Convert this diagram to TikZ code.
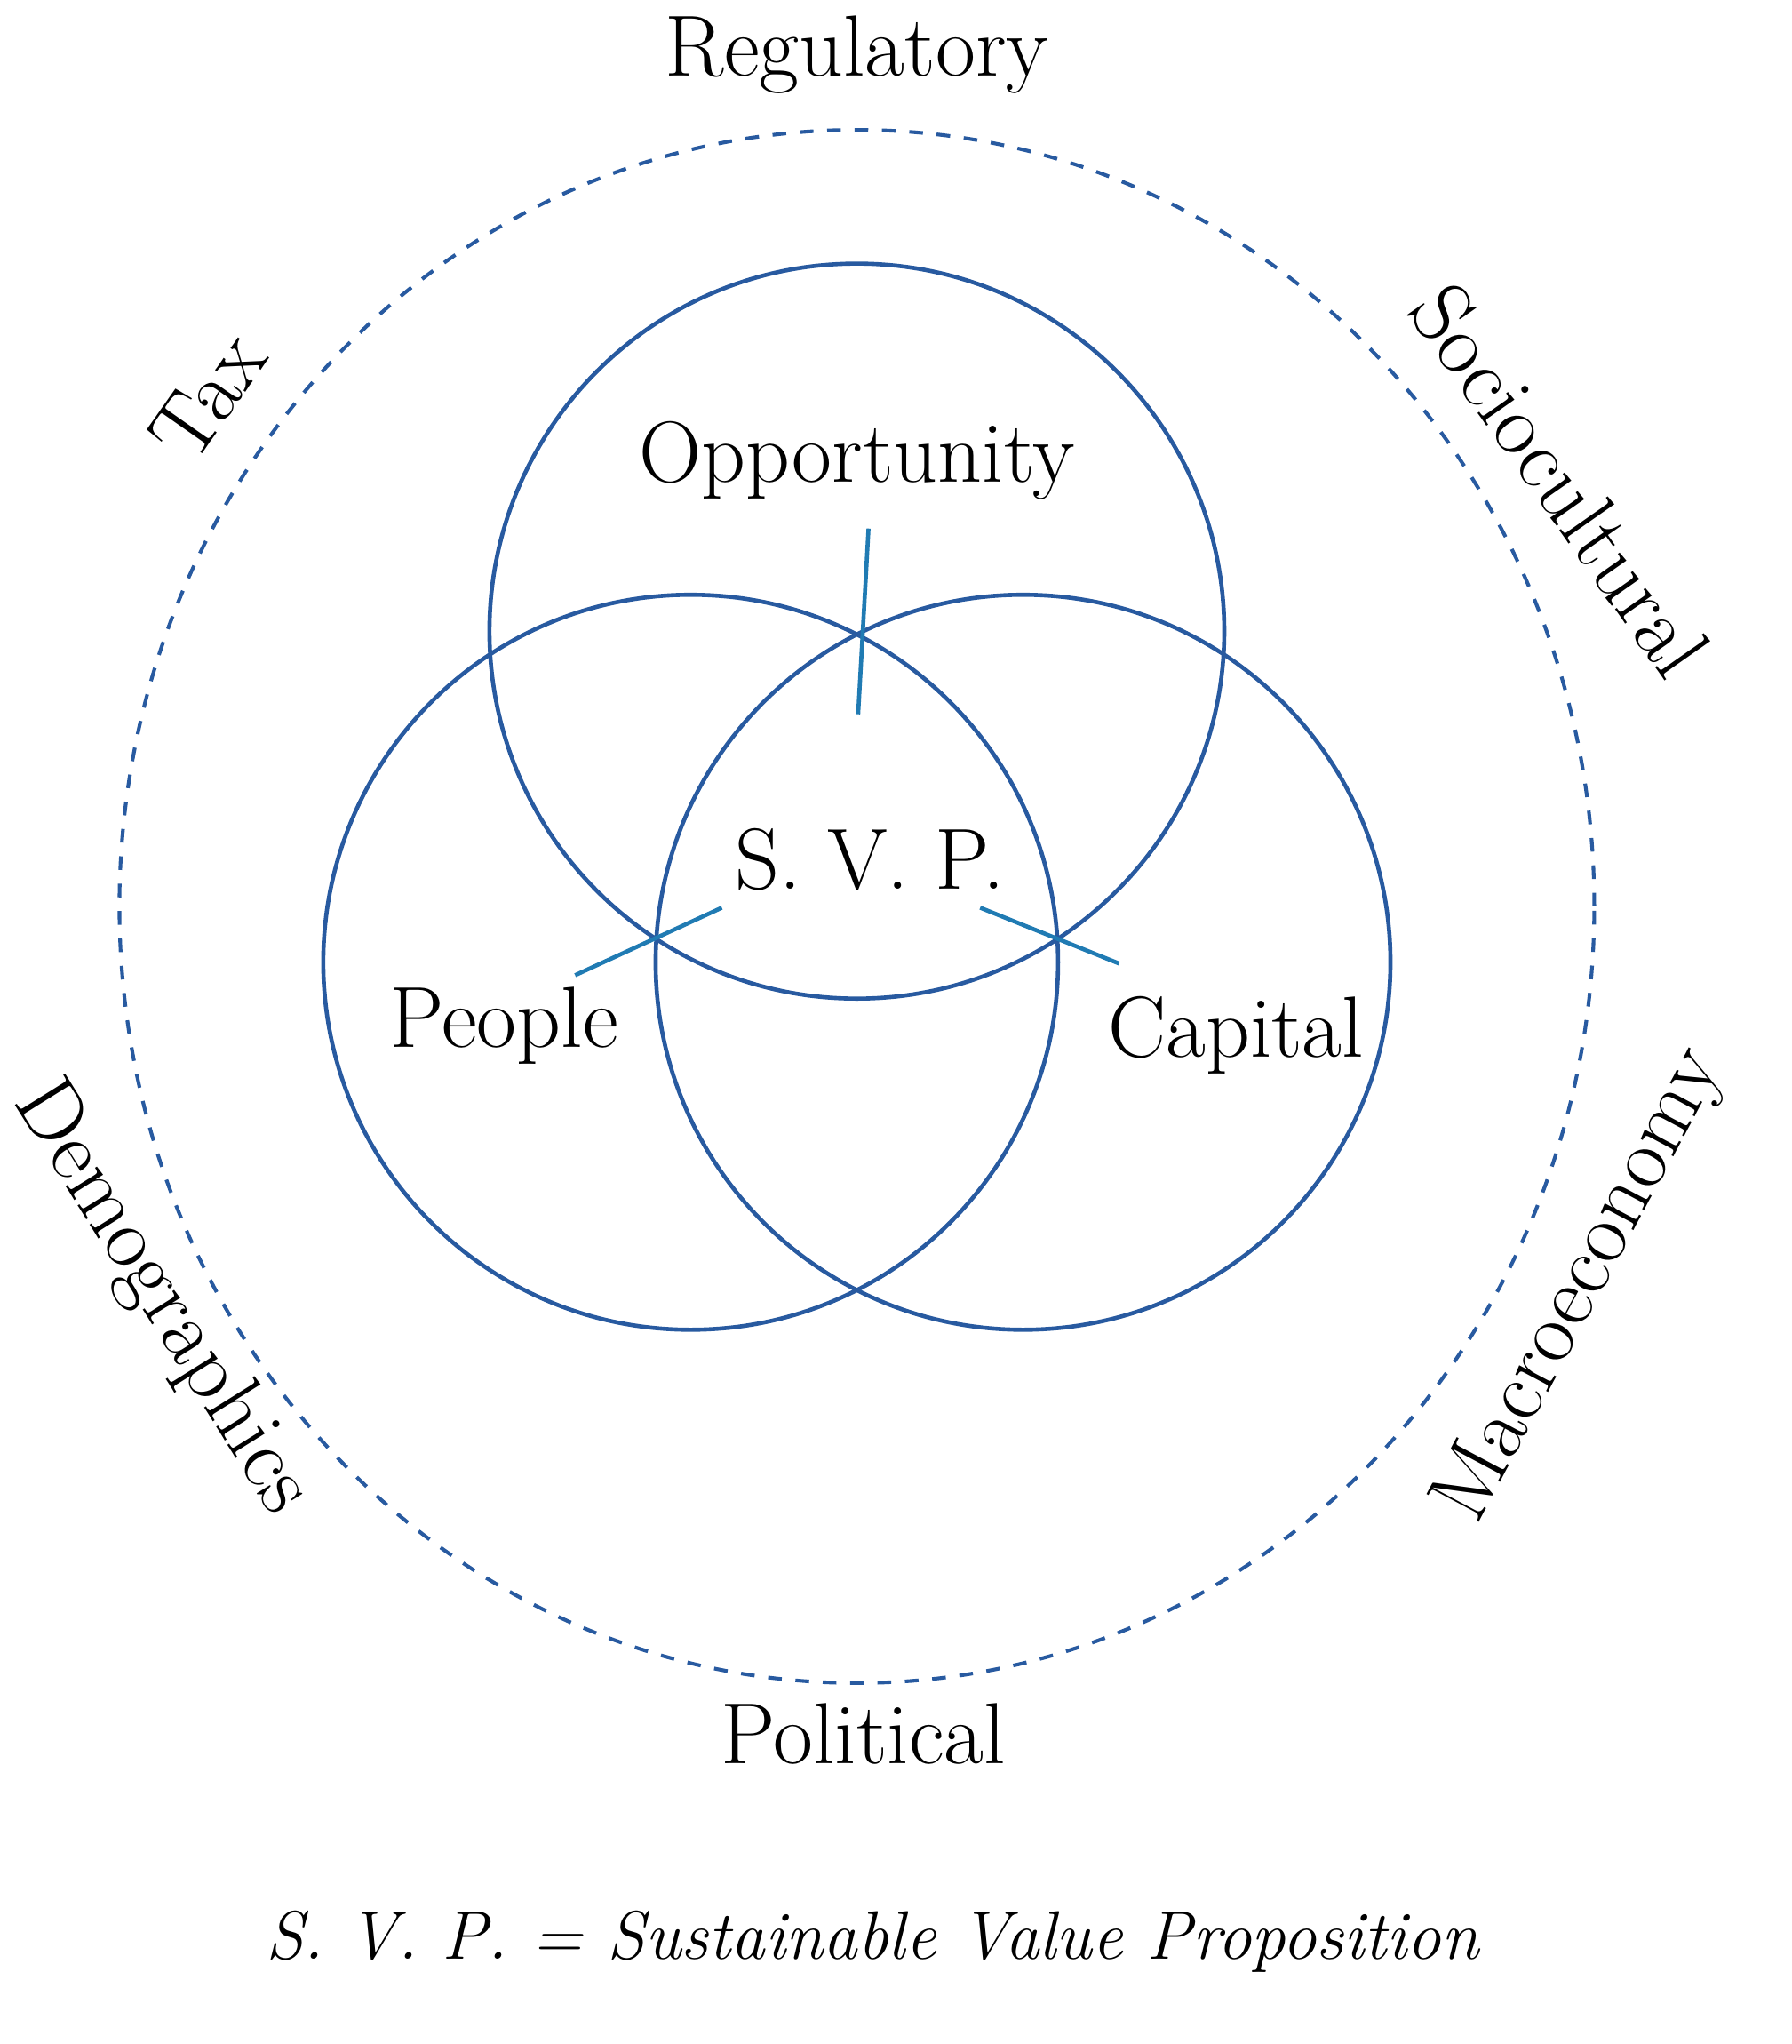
\documentclass[tikz,border=0pt]{standalone}
\begin{document}
\begin{tikzpicture}[x=0.01cm,y=-0.01cm,
  ring/.style={draw=vblue,line width=0.9pt},
  tick/.style={draw=vblue!80!cyan,line width=0.9pt},
  lbl/.style={font=\fontsize{19}{21}\selectfont,inner sep=0pt}]
\definecolor{vblue}{RGB}{40,90,160}
\useasboundingbox (0,0) rectangle (1380,1574);
\draw[vblue,dashed,line width=0.8pt] (660,698) ellipse [x radius=568,y radius=-598];
\draw[ring] (660,486) circle [radius=283];
\draw[ring] (532,741) circle [radius=283];
\draw[ring] (788,741) circle [radius=283];
\coordinate (t1) at (669,407); \coordinate (t2) at (661,550);
\coordinate (l1) at (443,751); \coordinate (l2) at (556,699);
\coordinate (r1) at (755,699); \coordinate (r2) at (862,742);
\draw[tick] (t1) -- (t2);
\draw[tick] (l1) -- (l2);
\draw[tick] (r1) -- (r2);
\node[lbl] (reg) at (660,42) {Regulatory};
\node[lbl] (opp) at (660,355) {Opportunity};
\node[lbl] (svp) at (670,662) {S. V. P.};
\node[lbl] (peo) at (388,790) {People};
\node[lbl] (cap) at (952,797) {Capital};
\node[lbl] (pol) at (665,1335) {Political};
\node[lbl,rotate=55] (tax) at (160,305) {Tax};
\node[lbl,rotate=-55] (soc) at (1202,370) {Sociocultural};
\node[lbl,rotate=-58] (dem) at (124,1000) {Demographics};
\node[lbl,rotate=62] (mac) at (1218,990) {Macroeconomy};
\node[inner sep=0pt,font=\fontsize{15}{17}\selectfont\itshape] (cap2) at (672,1495) {S. V. P. = Sustainable Value Proposition};
\end{tikzpicture}
\end{document}
